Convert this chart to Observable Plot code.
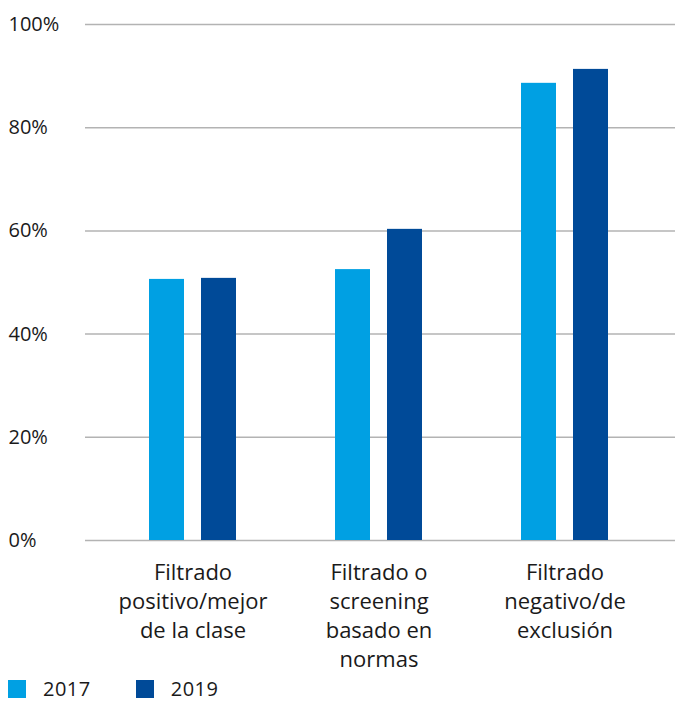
<!DOCTYPE html>
<html>
<head>
<meta charset="utf-8">
<script src="https://cdn.jsdelivr.net/npm/d3@7"></script>
<script src="https://cdn.jsdelivr.net/npm/@observablehq/plot@0.6"></script>
<style>
  body { margin: 0; background: #fff; font-family: "Open Sans", sans-serif; color: #1a1a1a; overflow: hidden; }
  #chart svg { display: block; }
  .legend { display: flex; align-items: center; height: 24px; line-height: 24px; margin: 0; font-size: 20px; letter-spacing: 0.5px; }
  .sw { width: 18px; height: 18px; display: inline-block; }
  .item { display: flex; align-items: center; }
</style>
</head>
<body>
<div id="chart"></div>
<div class="legend" id="legend"></div>
<script>
const categories = ["Filtrado\npositivo/mejor\nde la clase", "Filtrado o\nscreening\nbasado en\nnormas", "Filtrado\nnegativo/de\nexclusión"];
const years = ["2017", "2019"];
const values2017 = [50.6, 52.5, 88.6];
const values2019 = [50.8, 60.3, 91.3];
const yTicks = [0, 20, 40, 60, 80, 100];
const colors = ["#00A0E3", "#004A98"];

const rows2017 = categories.map((c, i) => ({category: c, year: years[0], value: values2017[i]}));
const rows2019 = categories.map((c, i) => ({category: c, year: years[1], value: values2019[i]}));

const chart = Plot.plot({
  width: 675,
  height: 677,
  marginLeft: 85,
  marginRight: 0,
  marginTop: 24,
  marginBottom: 137,
  style: {fontFamily: "'Open Sans', sans-serif", color: "#1a1a1a", background: "#fff"},
  x: {domain: categories, paddingInner: 0.532, paddingOuter: 0.352, align: 0.485, label: null},
  y: {domain: [0, 100], ticks: yTicks, label: null},
  color: {domain: years, range: colors},
  marks: [
    Plot.gridY(yTicks, {stroke: "#b3b3b3", strokeOpacity: 1, strokeWidth: 1.5}),
    Plot.barY(rows2017, {x: "category", y: "value", fill: "year", insetRight: 52}),
    Plot.barY(rows2019, {x: "category", y: "value", fill: "year", insetLeft: 52}),
    Plot.axisY(yTicks, {tickSize: 0, tickPadding: 3, textAnchor: "start", dx: -74, fontSize: 20, tickFormat: d => d + "%", fill: "#1a1a1a", label: null}),
    Plot.axisX({tickSize: 0, tickPadding: 19, fontSize: 22, lineHeight: 1.32, fill: "#1a1a1a", label: null})
  ]
});
document.getElementById("chart").appendChild(chart);

const legend = document.getElementById("legend");
years.forEach((y, i) => {
  const item = document.createElement("div");
  item.className = "item";
  item.style.marginLeft = i === 0 ? "8px" : "45px";
  const sw = document.createElement("span");
  sw.className = "sw";
  sw.style.background = colors[i];
  const t = document.createElement("span");
  t.textContent = y;
  t.style.marginLeft = "17px";
  item.appendChild(sw);
  item.appendChild(t);
  legend.appendChild(item);
});
</script>
</body>
</html>
